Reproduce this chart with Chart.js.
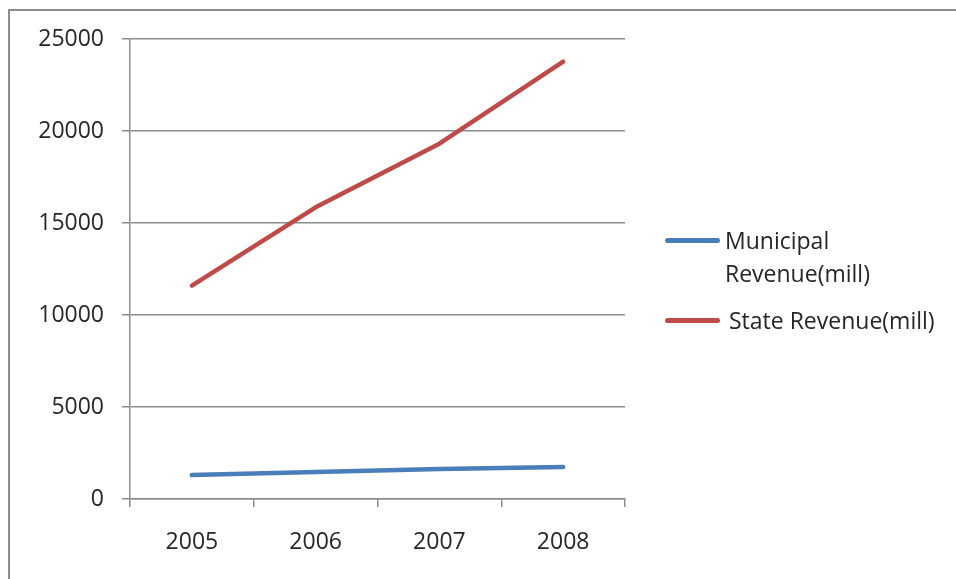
<!DOCTYPE html>
<html>
<head>
<meta charset="utf-8">
<script src="https://cdn.jsdelivr.net/npm/chart.js@4"></script>
<style>
    html, body { margin: 0; padding: 0; background: #fff; overflow: hidden; }
    #wrap { position: relative; width: 956px; height: 579px; }
    #frame { position: absolute; left: 8px; top: 9px; width: 1000px; height: 700px; border-left: 2px solid #8c8c8c; border-top: 2px solid #8c8c8c; }
    #chart { position: absolute; left: 0; top: 0; }
    .legend { position: absolute; font-family: "Open Sans", sans-serif; font-size: 23px; color: #262626; line-height: 32.7px; white-space: nowrap; }
    .swatch { position: absolute; height: 5px; border-radius: 3px; }
</style>
</head>
<body>
<div id="wrap">
    <div id="frame"></div>
    <canvas id="chart" width="956" height="579"></canvas>
    <div class="swatch" style="left:665px; top:238px; width:55px; background:#4A7EBB;"></div>
    <div class="legend" style="left:725px; top:224px;">Municipal<br>Revenue(mill)</div>
    <div class="swatch" style="left:665px; top:318px; width:55px; background:#BE4B48;"></div>
    <div class="legend" style="left:729px; top:304px;">State Revenue(mill)</div>
</div>
<script>
const years = ['2005', '2006', '2007', '2008'];
const municipalRevenue = [1300, 1470, 1630, 1740];
const stateRevenue = [11600, 15850, 19310, 23770];
const yTicks = [0, 5000, 10000, 15000, 20000, 25000];

const gridColor = '#8c8c8c';
const tickFont = { family: '"Open Sans", sans-serif', size: 23 };

new Chart(document.getElementById('chart'), {
    type: 'line',
    data: {
        labels: years,
        datasets: [{
            label: 'Municipal Revenue(mill)',
            data: municipalRevenue,
            borderColor: '#4A7EBB',
            backgroundColor: '#4A7EBB',
            borderWidth: 4.5,
            borderCapStyle: 'round',
            borderJoinStyle: 'round',
            pointRadius: 0,
            tension: 0,
        }, {
            label: 'State Revenue(mill)',
            data: stateRevenue,
            borderColor: '#BE4B48',
            backgroundColor: '#BE4B48',
            borderWidth: 4.5,
            borderCapStyle: 'round',
            borderJoinStyle: 'round',
            pointRadius: 0,
            tension: 0,
        }]
    },
    options: {
        responsive: false,
        animation: false,
        layout: { padding: { left: 34, top: 39, right: 331, bottom: 0 } },
        plugins: {
            legend: { display: false },
            tooltip: { enabled: false },
        },
        scales: {
            x: {
                offset: true,
                grid: {
                    offset: true,
                    drawOnChartArea: false,
                    drawTicks: true,
                    tickLength: 8,
                    color: gridColor,
                    lineWidth: 1.5,
                },
                border: { color: gridColor, width: 1.5 },
                ticks: { font: tickFont, color: '#262626', padding: 22, maxRotation: 0 },
                afterFit: (scale) => { scale.height = 80; },
            },
            y: {
                min: 0,
                max: 25000,
                afterBuildTicks: (scale) => { scale.ticks = yTicks.map(v => ({ value: v })); },
                grid: {
                    color: gridColor,
                    lineWidth: 1.5,
                    tickLength: 8,
                },
                border: { color: gridColor, width: 1.5 },
                ticks: {
                    font: tickFont,
                    color: '#262626',
                    padding: 18,
                    callback: (value) => String(value),
                },
                afterFit: (scale) => { scale.width = 96; },
            }
        }
    }
});
</script>
</body>
</html>
